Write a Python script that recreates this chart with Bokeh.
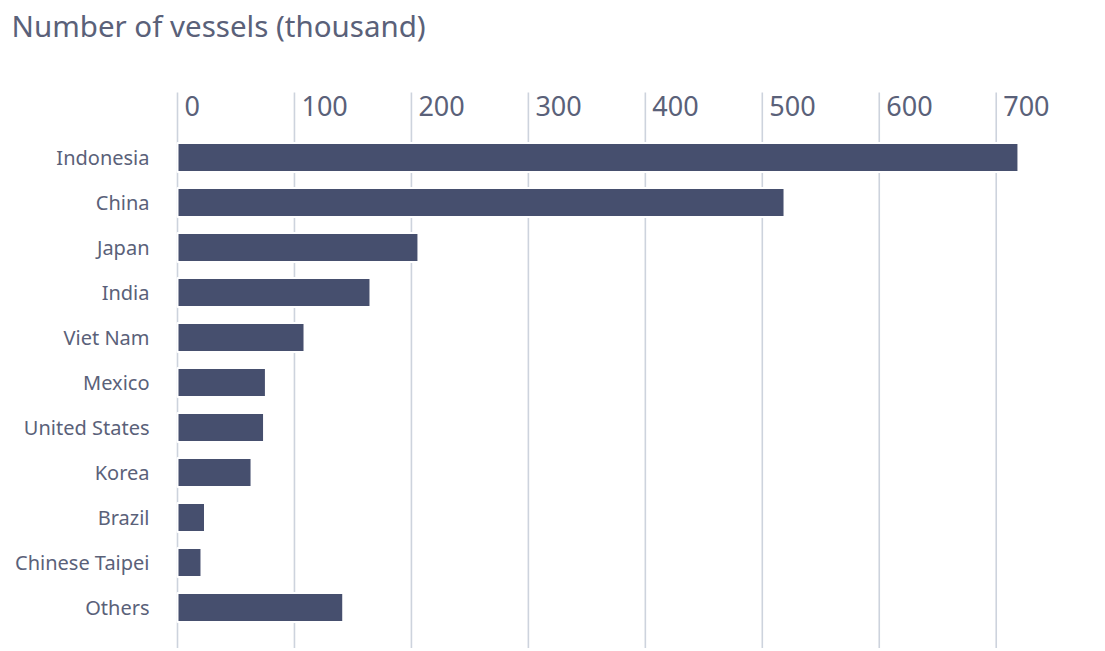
from bokeh.plotting import figure
from bokeh.models import Range1d, ColumnDataSource
from bokeh.core.properties import value
from bokeh.embed import file_html
from bokeh.resources import INLINE

countries = ["Indonesia", "China", "Japan", "India", "Viet Nam", "Mexico",
             "United States", "Korea", "Brazil", "Chinese Taipei", "Others"]
vessels = [719, 519, 206, 165, 108.6, 75.6, 74, 63.3, 23.5, 20.5, 141.7]
tick_values = [0, 100, 200, 300, 400, 500, 600, 700]
tick_labels = ["0", "100", "200", "300", "400", "500", "600", "700"]
title_text = "Number of vessels (thousand)"

BAR = "#464f6e"
TEXT = "#5a6179"
GRID = "#cdd3dd"
FONT = "Noto Sans"

ypos = list(range(len(countries)))

# layout (pixels on the canvas)
W, H = 1100, 648
ZERO_X = 177.0          # canvas x of value 0
PX_PER_UNIT = 1.1696    # pixels per thousand vessels
ROW_PX = 45.0           # pixels per category row
FIRST_ROW_Y = 157.0     # canvas y of first row centre
GRID_TOP_Y = 92.0
TICK_BASE_Y = 105.0
TITLE_BASE_Y = 25.0
TITLE_X = 11.0


def vx(c):
    return (c - ZERO_X) / PX_PER_UNIT


def vy(c):
    return (c - FIRST_ROW_Y) / ROW_PX


p = figure(width=W, height=H, output_backend="svg", toolbar_location=None,
           x_range=Range1d(vx(0), vx(W)), y_range=Range1d(vy(H), vy(0)),
           min_border_left=0, min_border_right=0, min_border_bottom=0,
           min_border_top=0)
p.axis.visible = False
p.grid.visible = False
p.outline_line_color = None
p.background_fill_color = "white"
p.border_fill_color = "white"

# vertical grid lines
gsrc = ColumnDataSource(dict(x=tick_values))
p.segment(x0="x", x1="x", y0=vy(GRID_TOP_Y), y1=vy(H), source=gsrc,
          line_color=GRID, line_width=1.6)

# bars
src = ColumnDataSource(dict(y=ypos, v=vessels, name=countries))
p.hbar(y="y", left=0, right="v", height=0.64, source=src,
       fill_color=BAR, line_color="white", line_width=2)

# category labels
p.text(x=0, y="y", text="name", source=src, x_offset=-28,
       text_font=value(FONT), text_font_size="20px", text_color=TEXT,
       text_baseline="middle", text_align="right")

# value tick labels (top)
tsrc = ColumnDataSource(dict(x=tick_values, t=tick_labels))
p.text(x="x", y=vy(TICK_BASE_Y), text="t", source=tsrc, x_offset=7,
       text_font=value(FONT), text_font_size="27px", text_color=TEXT,
       text_baseline="alphabetic", text_align="left")

# title
p.text(x=[vx(TITLE_X)], y=[vy(TITLE_BASE_Y)], text=[title_text],
       text_font=value(FONT), text_font_size="29.5px", text_color=TEXT,
       text_baseline="alphabetic", text_align="left")

open("out.html", "w").write(file_html(p, INLINE))
